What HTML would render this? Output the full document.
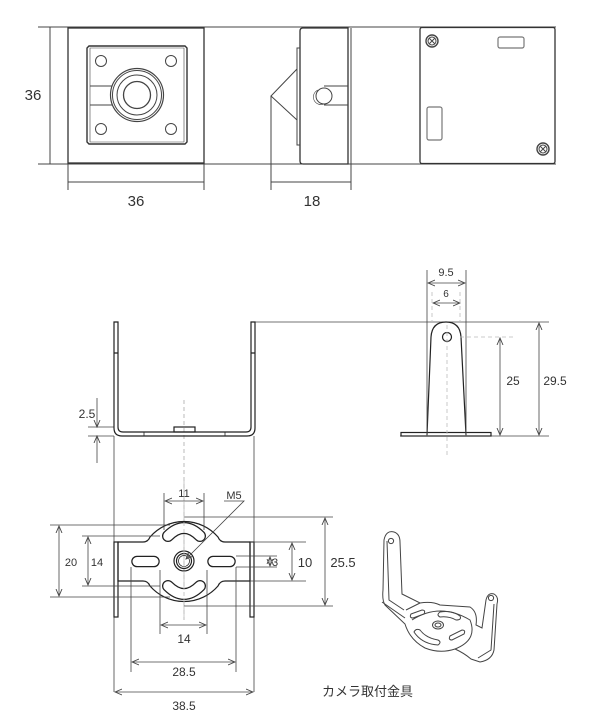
<!DOCTYPE html>
<html><head><meta charset="utf-8"><style>
html,body{margin:0;padding:0;background:#fff;}
svg{display:block;}
text{font-family:"Liberation Sans","Noto Sans CJK JP",sans-serif;fill:#333;}
</style></head><body>
<svg width="600" height="725" viewBox="0 0 600 725" xmlns="http://www.w3.org/2000/svg">
<defs>
<marker id="a" markerWidth="8" markerHeight="8" refX="7" refY="4" orient="auto-start-reverse" markerUnits="userSpaceOnUse">
<path d="M0,1 L7,4 L0,7" fill="none" stroke="#444" stroke-width="0.9"/></marker>
</defs>
<!-- TOP SECTION -->
<g stroke="#444" stroke-width="1" fill="none">
<line x1="38" y1="27" x2="556" y2="27"/>
<line x1="38" y1="164" x2="556" y2="164"/>
<line x1="50" y1="27" x2="50" y2="164"/>
<!-- front -->
<rect x="68" y="28" width="136" height="135" stroke="#333" stroke-width="1.3"/>
<path d="M89,46 H185 L187,48 V142 L185,144 H89 L87,142 V48 Z" stroke="#333" stroke-width="1.4"/>
<path d="M90,48 H184 V142 H90 Z" stroke-width="0.6"/>
<circle cx="101" cy="61" r="5.5"/><circle cx="171" cy="61" r="5.5"/>
<circle cx="101" cy="129" r="5.5"/><circle cx="171" cy="129" r="5.5"/>
<line x1="90" y1="86" x2="112" y2="86"/><line x1="90" y1="105" x2="112" y2="105"/>
<circle cx="137" cy="95" r="26.5" stroke-width="1.2"/>
<circle cx="137" cy="95" r="24.5"/>
<circle cx="137" cy="95" r="20"/>
<circle cx="137" cy="95" r="13.5" stroke-width="1.3"/>
<line x1="68" y1="164" x2="68" y2="190"/><line x1="204" y1="164" x2="204" y2="190"/>
<line x1="68" y1="182" x2="204" y2="182"/>
<!-- side -->
<path d="M303,28 H348 V164 H303 Q300,164 300,161 V31 Q300,28 303,28 Z" stroke="#333" stroke-width="1.3"/>
<line x1="351" y1="28" x2="351" y2="164"/>
<path d="M300,48 H297 V145 H300"/>
<path d="M297,69 L271,96 L297,120"/>
<line x1="271" y1="96" x2="271" y2="190"/>
<circle cx="324" cy="96" r="8"/>
<path d="M324,86 H348 M324,105 H348"/>
<path d="M318,90 A7,7 0 0 0 324,104" stroke-width="0.6"/>
<line x1="351" y1="164" x2="351" y2="190"/>
<line x1="271" y1="182" x2="351" y2="182"/>
<!-- back -->
<rect x="420" y="27.5" width="135" height="136" rx="2" stroke="#333" stroke-width="1.3"/>
<circle cx="432" cy="41" r="6" stroke-width="1.4"/><circle cx="432" cy="41" r="4"/>
<path d="M429,38 L435,44 M435,38 L429,44"/>
<circle cx="543" cy="149" r="6" stroke-width="1.4"/><circle cx="543" cy="149" r="4"/>
<path d="M540,146 L546,152 M546,146 L540,152"/>
<rect x="498" y="37" width="26" height="11" rx="2" stroke="#777" stroke-width="1.2"/>
<rect x="427" y="107" width="15" height="33" rx="2" stroke="#777" stroke-width="1.2"/>
</g>
<text x="33" y="100" font-size="15" text-anchor="middle">36</text>
<text x="136" y="206" font-size="15" text-anchor="middle">36</text>
<text x="312" y="206" font-size="15" text-anchor="middle">18</text>

<!-- MIDDLE SECTION -->
<g stroke="#444" stroke-width="0.8" fill="none">
<line x1="255" y1="322" x2="549" y2="322"/>
<line x1="400" y1="436" x2="549" y2="436"/>
<line x1="88" y1="427" x2="114" y2="427"/>
<line x1="88" y1="436" x2="114" y2="436"/>
<line x1="97" y1="398" x2="97" y2="427" marker-end="url(#a)"/>
<line x1="97" y1="463" x2="97" y2="436" marker-end="url(#a)"/>
<line x1="114" y1="436" x2="114" y2="692"/>
<line x1="254" y1="436" x2="254" y2="692"/>
<line x1="184" y1="400" x2="184" y2="620" stroke-dasharray="4,3" stroke="#aaa"/>
</g>
<g stroke="#222" stroke-width="1.2" fill="none">
<path d="M114,322 V428 Q114,436 122,436 H247 Q255,436 255,428 V322 H251 V427 Q251,432 246,432 H123 Q118,432 118,427 V322 Z"/>
<path d="M114,353 H118 M251,353 H255"/>
<rect x="174" y="427" width="21" height="5"/>
<path d="M144,432 V436 M225,432 V436" stroke-width="0.8"/>
<!-- side bracket -->
<rect x="401" y="432.5" width="90" height="3.5"/>
<path d="M427,435 L431,337 Q432,322 446,322 Q460,322 461,337 L466,435"/>
<circle cx="447" cy="337" r="4.5"/>
</g>
<g stroke="#444" stroke-width="0.8" fill="none">
<line x1="427" y1="270" x2="427" y2="436"/>
<line x1="466" y1="270" x2="466" y2="436"/>
<line x1="428" y1="283" x2="465" y2="283" marker-start="url(#a)" marker-end="url(#a)"/>
<line x1="433" y1="303" x2="460" y2="303" marker-start="url(#a)" marker-end="url(#a)"/>
<line x1="500" y1="338" x2="500" y2="435" marker-start="url(#a)" marker-end="url(#a)"/>
<line x1="539" y1="323" x2="539" y2="435" marker-start="url(#a)" marker-end="url(#a)"/>
</g>
<g stroke="#bbb" stroke-width="0.8" fill="none" stroke-dasharray="4,3">
<line x1="432" y1="292" x2="432" y2="322"/>
<line x1="460" y1="292" x2="460" y2="322"/>
<line x1="447" y1="325" x2="447" y2="458"/>
<line x1="460" y1="337" x2="516" y2="337"/>
</g>
<text x="87" y="418" font-size="12" text-anchor="middle">2.5</text>
<text x="446" y="276" font-size="11" text-anchor="middle">9.5</text>
<text x="446" y="297" font-size="10" text-anchor="middle">6</text>
<text x="513" y="385" font-size="12" text-anchor="middle">25</text>
<text x="555" y="385" font-size="12" text-anchor="middle">29.5</text>

<!-- BOTTOM SECTION -->
<g stroke="#222" stroke-width="1.2" fill="none">
<path d="M118,542 H143 Q148,542 150,537 A45,45 0 0 1 218,537 Q220,542 225,542 H250 V581 H225 Q220,581 218,586 A45,45 0 0 1 150,586 Q148,581 143,581 H118 Z"/>
<rect x="114" y="542" width="4" height="75"/>
<rect x="250" y="542" width="4" height="75"/>
<circle cx="184" cy="561" r="10"/>
<circle cx="184" cy="561" r="7.5"/>
<circle cx="184" cy="561" r="5.5" stroke-width="0.7"/>
</g>
<g fill="none" stroke-linecap="round">
<path d="M168,536 Q184,520 200,536" stroke="#222" stroke-width="12"/>
<path d="M168,536 Q184,520 200,536" stroke="#fff" stroke-width="9.5"/>
<path d="M168,586 Q184,602 200,586" stroke="#222" stroke-width="12"/>
<path d="M168,586 Q184,602 200,586" stroke="#fff" stroke-width="9.5"/>
<path d="M137,561.5 H154" stroke="#222" stroke-width="11.5"/>
<path d="M137,561.5 H154" stroke="#fff" stroke-width="9"/>
<path d="M213,561.5 H230" stroke="#222" stroke-width="11.5"/>
<path d="M213,561.5 H230" stroke="#fff" stroke-width="9"/>
</g>
<g stroke="#444" stroke-width="0.8" fill="none">
<path d="M164,493 V530 M204,493 V530"/>
<line x1="165" y1="501" x2="203" y2="501" marker-start="url(#a)" marker-end="url(#a)"/>
<path d="M224,501 H244 L186,559" marker-end="url(#a)"/>
<path d="M50,525 H170 M50,597 H170"/>
<line x1="59" y1="526" x2="59" y2="596" marker-start="url(#a)" marker-end="url(#a)"/>
<path d="M82,536 H160 M82,586 H160"/>
<line x1="88" y1="537" x2="88" y2="585" marker-start="url(#a)" marker-end="url(#a)"/>
<path d="M250,542 H306 M250,581 H306"/>
<line x1="292" y1="543" x2="292" y2="580" marker-start="url(#a)" marker-end="url(#a)"/>
<path d="M236,556 H277 M236,567 H277"/>
<line x1="270" y1="557" x2="270" y2="566" marker-start="url(#a)" marker-end="url(#a)"/>
<path d="M184,517 H333 M184,606 H333"/>
<line x1="325" y1="518" x2="325" y2="605" marker-start="url(#a)" marker-end="url(#a)"/>
<path d="M160,570 V634 M207,570 V634"/>
<line x1="161" y1="625" x2="206" y2="625" marker-start="url(#a)" marker-end="url(#a)"/>
<path d="M131,567 V672 M236,567 V672"/>
<line x1="132" y1="662" x2="235" y2="662" marker-start="url(#a)" marker-end="url(#a)"/>
<line x1="115" y1="692" x2="253" y2="692" marker-start="url(#a)" marker-end="url(#a)"/>
<line x1="184" y1="480" x2="184" y2="620" stroke="#bbb" stroke-dasharray="4,3"/>
</g>
<text x="184" y="497" font-size="11" text-anchor="middle">11</text>
<text x="234" y="499" font-size="11" text-anchor="middle">M5</text>
<text x="71" y="566" font-size="11" text-anchor="middle">20</text>
<text x="97" y="566" font-size="11" text-anchor="middle">14</text>
<text x="275" y="566" font-size="11" text-anchor="middle">3</text>
<text x="305" y="567" font-size="13" text-anchor="middle">10</text>
<text x="343" y="567" font-size="13" text-anchor="middle">25.5</text>
<text x="184" y="643" font-size="12" text-anchor="middle">14</text>
<text x="184" y="676" font-size="12" text-anchor="middle">28.5</text>
<text x="184" y="710" font-size="12" text-anchor="middle">38.5</text>
<text x="322" y="696" font-size="13">カメラ取付金具</text>

<!-- 3D bracket -->
<g stroke="#444" stroke-width="1" fill="none">
<path d="M384,540 Q386,530 394,532 Q400,534 400,542 L402,594 L420,603 Q432,601 440,605 L470,607 Q478,612 476,625 L482,628 L486,600 Q488,592 494,594 Q499,597 497,604 L494,650 Q492,660 480,662 L471,659 Q464,653 455,649 Q440,654 425,648 Q410,640 405,624 L385,605 Q382,600 383,590 Z"/>
<path d="M387,541 L389,600 L404,610"/>
<path d="M494,604 L491,650 L478,658"/>
<path d="M382,602 L405,618 M406,610 L420,603"/>
<circle cx="391" cy="541" r="2.6"/>
<circle cx="491" cy="598" r="2.6"/>
<path d="M412,620 Q440,602 470,620 Q478,640 455,649"/>
<ellipse cx="438" cy="625" rx="5.5" ry="4"/><ellipse cx="438" cy="625" rx="3" ry="2"/>
<path d="M411,614 L422,610 Q426,610 424,614 L413,618 Q409,618 411,614 Z"/>
<path d="M440,612 Q452,610 460,616 Q462,620 456,620 Q449,616 440,617 Q436,615 440,612 Z"/>
<path d="M414,632 Q416,628 420,630 Q426,638 438,640 Q442,642 438,645 Q422,644 414,632 Z"/>
<path d="M450,636 L462,630 Q466,630 464,634 L452,640 Q448,640 450,636 Z"/>
</g>
</svg>
</body></html>
